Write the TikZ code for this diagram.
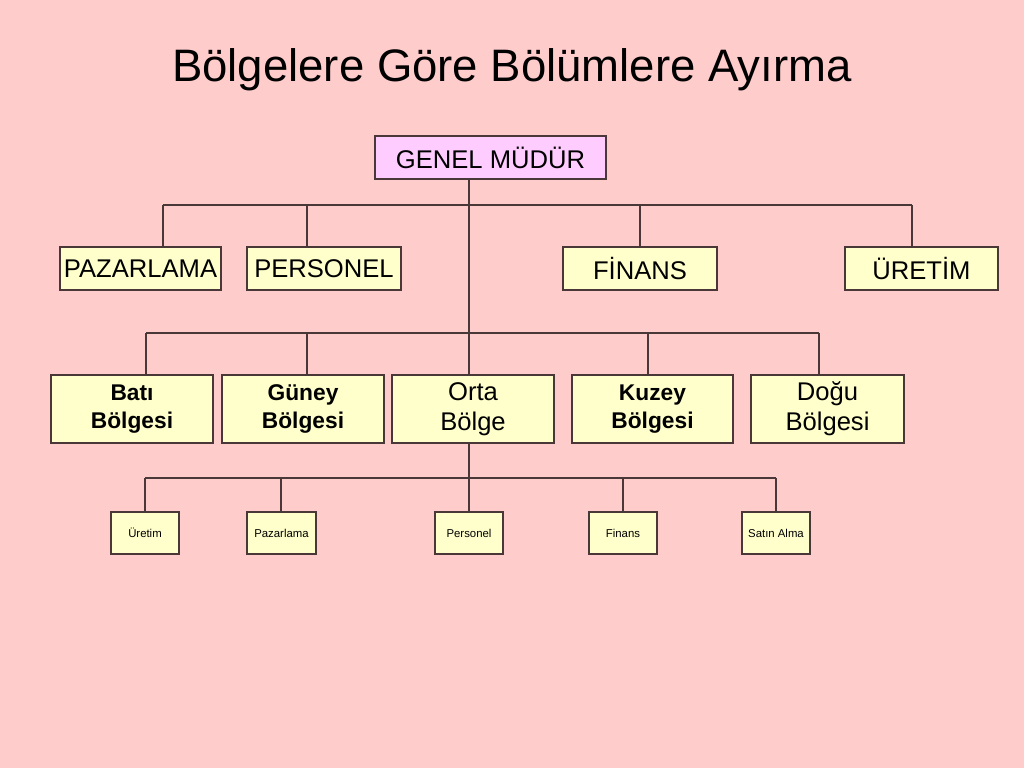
\documentclass[tikz,border=0pt]{standalone}
\usepackage{fontspec}
\setmainfont{Liberation Sans}
\definecolor{bg}{HTML}{FFCCCC}
\definecolor{cream}{HTML}{FFFFCC}
\definecolor{lav}{HTML}{FFCCFF}
\definecolor{ln}{HTML}{4A3838}
\newcommand\bx[7]{\node[#6, minimum width={(#4-#2)*0.703125pt}, minimum height={(#5-#3)*0.703125pt}] (#1) at ({(#2+#4)/2},{(#3+#5)/2}) {#7};}
\tikzset{
  box/.style={draw=ln, line width=0.8pt, fill=cream, inner sep=0pt, align=center},
  bigbox/.style={box, font=\fontsize{18}{21}\selectfont},
  boldbox/.style={box, font=\fontsize{16}{19.5}\selectfont\bfseries},
  smallbox/.style={box, font=\fontsize{8}{10}\selectfont},
  topbox/.style={bigbox, fill=lav},
  conn/.style={draw=ln, line width=0.8pt}
}
\begin{document}
\begin{tikzpicture}[x=0.703125pt, y=-0.703125pt]
\fill[bg] (0,0) rectangle (1024,768);
\useasboundingbox (0,0) rectangle (1024,768);
\node[font=\fontsize{32}{38}\selectfont, anchor=base] (title) at (512,82) {Bölgelere Göre Bölümlere Ayırma};
% boxes
\bx{gm}{375}{136}{606}{179}{topbox}{GENEL MÜDÜR}
\bx{paz}{60}{247}{221}{290}{bigbox}{PAZARLAMA}
\bx{per}{247}{247}{401}{290}{bigbox}{PERSONEL}
\bx{fin}{563}{247}{717}{290}{bigbox}{FİNANS}
\bx{ure}{845}{247}{998}{290}{bigbox}{ÜRETİM}
\bx{bati}{51}{375}{213}{443}{boldbox}{Batı\\ Bölgesi}
\bx{guney}{222}{375}{384}{443}{boldbox}{Güney\\ Bölgesi}
\bx{orta}{392}{375}{554}{443}{bigbox}{Orta\\Bölge}
\bx{kuzey}{572}{375}{733}{443}{boldbox}{Kuzey\\ Bölgesi}
\bx{dogu}{751}{375}{904}{443}{bigbox}{Doğu\\Bölgesi}
\bx{s1}{111}{512}{179}{554}{smallbox}{Üretim}
\bx{s2}{247}{512}{316}{554}{smallbox}{Pazarlama}
\bx{s3}{435}{512}{503}{554}{smallbox}{Personel}
\bx{s4}{589}{512}{657}{554}{smallbox}{Finans}
\bx{s5}{742}{512}{810}{554}{smallbox}{Satın Alma}
% bus coordinates
\coordinate (m) at (469,0);
\coordinate (a1) at (163,205);
\coordinate (a2) at (307,205);
\coordinate (a3) at (640,205);
\coordinate (a4) at (912,205);
\coordinate (b1) at (146,333);
\coordinate (b2) at (307,333);
\coordinate (b4) at (648,333);
\coordinate (b5) at (819,333);
\coordinate (c1) at (145,478);
\coordinate (c2) at (281,478);
\coordinate (c4) at (623,478);
\coordinate (c5) at (776,478);
% connectors
\draw[conn] (gm.south -| m) -- (orta.north -| m);
\draw[conn] (a1) -- (a4);
\draw[conn] (a1) -- (a1 |- paz.north);
\draw[conn] (a2) -- (a2 |- per.north);
\draw[conn] (a3) -- (a3 |- fin.north);
\draw[conn] (a4) -- (a4 |- ure.north);
\draw[conn] (b1) -- (b5);
\draw[conn] (b1) -- (b1 |- bati.north);
\draw[conn] (b2) -- (b2 |- guney.north);
\draw[conn] (b4) -- (b4 |- kuzey.north);
\draw[conn] (b5) -- (b5 |- dogu.north);
\draw[conn] (orta.south -| m) -- (s3.north -| m);
\draw[conn] (c1) -- (c5);
\draw[conn] (c1) -- (c1 |- s1.north);
\draw[conn] (c2) -- (c2 |- s2.north);
\draw[conn] (c4) -- (c4 |- s4.north);
\draw[conn] (c5) -- (c5 |- s5.north);
\end{tikzpicture}
\end{document}
